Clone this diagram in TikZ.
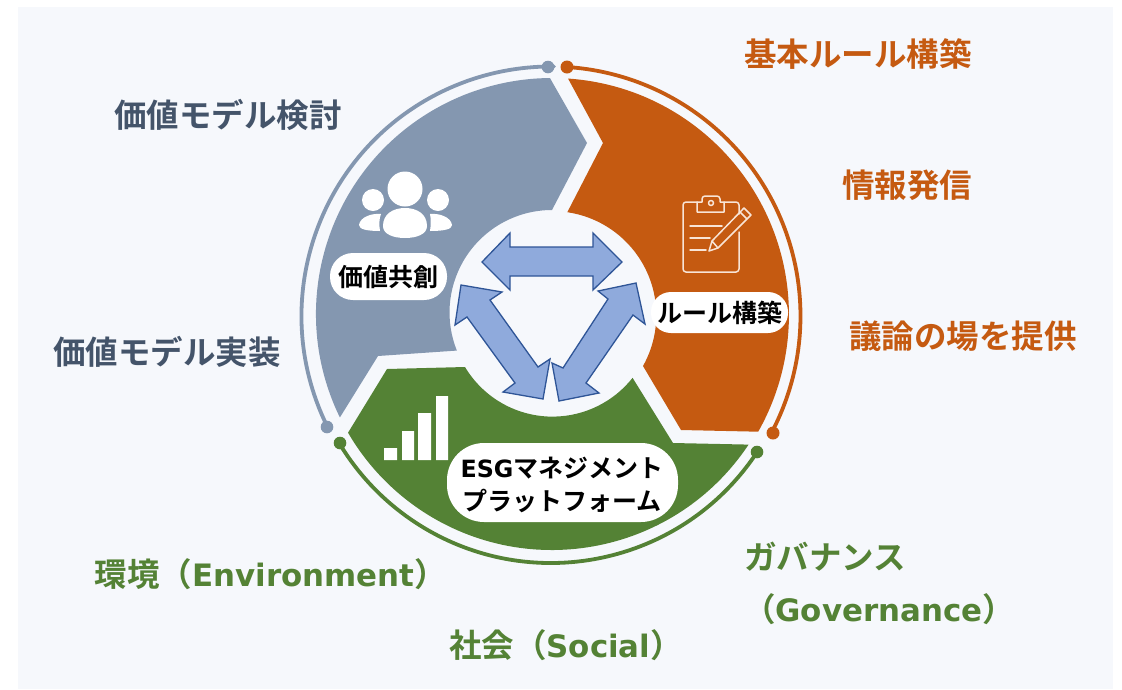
\documentclass[tikz,border=0pt]{standalone}
\usepackage{fontspec}
\setmainfont{Noto Sans CJK JP}[BoldFont={Noto Sans CJK JP Bold}]
\newfontfamily\latinb{DejaVu Sans Bold}[Scale=0.95]
\definecolor{bgc}{HTML}{F6F8FC}
\definecolor{grayc}{HTML}{8497B0}
\definecolor{orangec}{HTML}{C55A11}
\definecolor{greenc}{HTML}{548235}
\definecolor{slatec}{HTML}{44546A}
\definecolor{arrowfill}{HTML}{8FAADC}
\definecolor{arrowline}{HTML}{2F5597}
\definecolor{iconline}{HTML}{F8E4D6}
\tikzset{
  biglabel/.style={font=\fontsize{32.5}{36}\selectfont\bfseries,inner sep=0pt,anchor=center},
  pilltext/.style={font=\fontsize{25}{32.5}\selectfont\bfseries,inner sep=0pt,anchor=center,text=black,align=center},
  pill/.style={fill=white,draw=none},
  blockarrow/.style={fill=arrowfill,draw=arrowline,line width=1.3pt,line join=miter},
  ring/.style={line width=3.8pt,line cap=round},
  iconstroke/.style={draw=iconline,line width=1.5pt,line join=round,line cap=round},
}
\begin{document}
\begin{tikzpicture}[x=1pt,y=1pt,yscale=-1]
\useasboundingbox (0,0) rectangle (1122,689);
\fill[white] (0,0) rectangle (1122,689);
\fill[bgc] (18,7) rectangle (1113,689);
\coordinate (C) at (552,314);
\coordinate (R) at (551,316);
% segments
\fill[grayc] (C) ++(154:236) arc (154:269.5:236) -- (587,143) -- (552,210)
  arc (270:158.2:102.5) -- (378,356) -- cycle;
\fill[orangec] (C) ++(-86.1:236) arc (-86.1:29.5:237) -- (681,430) -- (643,366)
  arc (29.3:-81.7:104) -- (603,143) -- cycle;
\fill[greenc] (C) ++(33.6:236) arc (33.6:149.8:236) -- (387,369) -- (465,367)
  arc (149.1:38.3:102) -- (673,443) -- cycle;
% rings
\draw[ring,grayc] (R) ++(153.6:249.5) arc (153.6:270.7:249.5);
\draw[ring,orangec] (R) ++(-86.3:249.5) arc (-86.3:27.8:249.5);
\draw[ring,greenc] (R) ++(33.4:247) arc (33.4:149:247);
\fill[grayc] (548,67) circle (6.3) (327,427) circle (6.3);
\fill[orangec] (567,67) circle (6.5) (773,433) circle (6.5);
\fill[greenc] (340,443) circle (6.3) (757,452) circle (6.3);
% central arrows
\draw[blockarrow] (482,262) -- (510,233) -- (510,247) -- (593,247) -- (593,233) -- (622,262)
  -- (593,290) -- (593,276) -- (510,276) -- (510,290) -- cycle;
\draw[blockarrow] (461,285) -- (502,292) -- (490,300) -- (538,367) -- (550,359) -- (543,399)
  -- (503,392) -- (515,383) -- (467,317) -- (455,325) -- cycle;
\draw[blockarrow] (636,283) -- (645,324) -- (633,315) -- (586,383) -- (599,393) -- (559,401)
  -- (552,363) -- (563,368) -- (608,299) -- (598,291) -- cycle;
% people icon
\fill[white] (405,189) circle (17.5) (373,200) circle (11) (438,200) circle (11);
\fill[white] (383,226) .. controls (383,214) and (393,208) .. (405,208)
  .. controls (417,208) and (427,214) .. (427,226)
  .. controls (427,234) and (417,238) .. (405,238)
  .. controls (393,238) and (383,234) .. (383,226) -- cycle;
\fill[white] (381,214) .. controls (372,213) and (360,217) .. (359,225)
  .. controls (359,229) and (366,231) .. (380,231)
  .. controls (379,225) and (379,219) .. (381,214) -- cycle;
\fill[white] (430,214) .. controls (439,213) and (451,217) .. (452,225)
  .. controls (452,229) and (445,231) .. (430,231)
  .. controls (431,225) and (431,219) .. (430,214) -- cycle;
% clipboard icon
\draw[iconstroke] (739,232) -- (739,269) arc (0:90:3) -- (686,272) arc (90:180:3) -- (683,205)
  arc (180:270:3) -- (697,202) (724,202) -- (736,202) arc (-90:0:3) -- (739,214);
\draw[iconstroke] (697,212) -- (697,202) -- (702,202) -- (702,199) arc (180:270:3) -- (717,196)
  arc (-90:0:3) -- (720,202) -- (724,202) -- (724,212) -- cycle;
\draw[iconstroke] (711,203) circle (2.5);
\draw[iconstroke] (690,226) -- (722,226) (690,238) -- (710,238) (690,250) -- (706,250);
\draw[iconstroke] (709,251) -- (712,241) -- (744,208) -- (751,215) -- (718,248) -- cycle
  (712,241) -- (718,248) (740,212) -- (747,219);
% bar chart icon
\fill[white] (384,448) rectangle (397,460) (402,431) rectangle (414,460)
  (418,413) rectangle (431,460) (436,396) rectangle (448,460);
% pills
\fill[pill,rounded corners=20pt] (651,292) rectangle (788,333);
\fill[pill,rounded corners=37pt] (447,443) rectangle (678,522);
\fill[pill,rounded corners=23pt] (330,253) rectangle (447,300);
\node[pilltext] (kachi) at (388,277) {価値共創};
\node[pilltext] (rule) at (720,313) {ルール構築};
\node[pilltext] (esg) at (562,485) {{\latinb ESG}マネジメント\\プラットフォーム};
% outer labels
\node[biglabel,text=slatec] (l1) at (228,115) {価値モデル検討};
\node[biglabel,text=slatec] (l2) at (167,352) {価値モデル実装};
\node[biglabel,text=orangec] (l3) at (858,54) {基本ルール構築};
\node[biglabel,text=orangec] (l4) at (907,185) {情報発信};
\node[biglabel,text=orangec] (l5) at (963,336) {議論の場を提供};
\node[biglabel,text=greenc] (l6) at (271,574) {環境（{\latinb Environment}）};
\node[biglabel,text=greenc] (l7) at (566,645) {社会（{\latinb Social}）};
\node[biglabel,text=greenc] (l8) at (825,557) {ガバナンス};
\node[biglabel,text=greenc] (l9) at (879,609) {（{\latinb Governance}）};
\end{tikzpicture}
\end{document}
